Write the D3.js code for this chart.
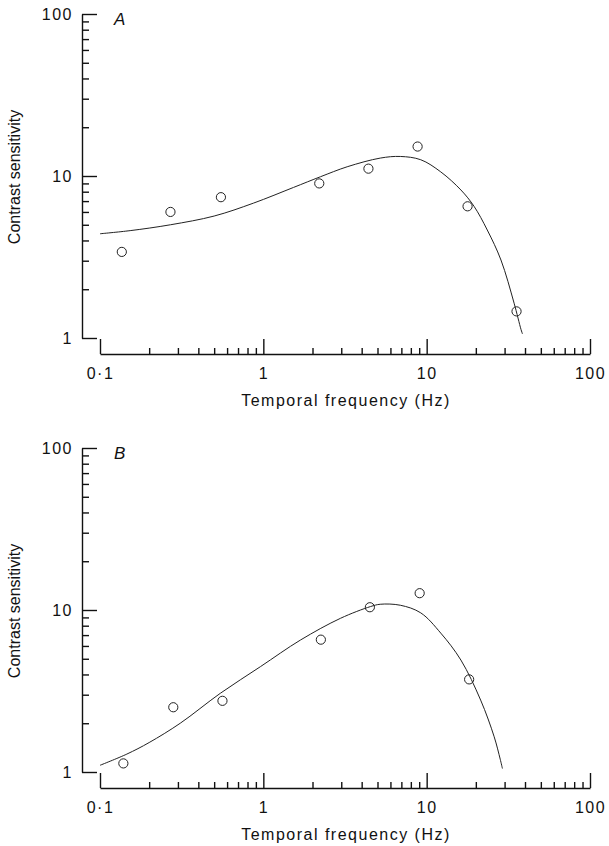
<!DOCTYPE html>
<html>
<head>
<meta charset="utf-8">
<script src="https://cdn.jsdelivr.net/npm/d3@7"></script>
<style>
  body { margin: 0; background: #fff; }
  text { font-family: Arial, "Liberation Sans", sans-serif; fill: #111; }
</style>
</head>
<body>
<script>
var w = 609;
var h = 846;

// panel A: measured points (Hz, contrast sensitivity)
var freqA = [0.136, 0.27, 0.55, 2.2, 4.4, 8.8, 17.8, 35.5];
var sensA = [3.4, 6.0, 7.4, 9.0, 11.1, 15.2, 6.5, 1.46];
// panel A: fitted curve
var curveFreqA = [0.1, 0.153, 0.27, 0.5, 0.87, 1.53, 2.24, 3.26, 5.2, 6.9, 9.2, 12.2, 16.2, 19.5, 23.5, 28.5, 34.3, 37.8, 38.6];
var curveSensA = [4.4, 4.6, 5.0, 5.66, 6.8, 8.5, 9.9, 11.4, 12.9, 13.2, 12.6, 10.6, 8.2, 6.5, 4.64, 3.03, 1.64, 1.13, 1.06];

// panel B
var freqB = [0.139, 0.281, 0.562, 2.25, 4.49, 9.06, 18.2];
var sensB = [1.13, 2.51, 2.75, 6.56, 10.4, 12.7, 3.73];
var curveFreqB = [0.1, 0.146, 0.2, 0.31, 0.545, 0.96, 1.69, 2.97, 4.53, 5.2, 6.9, 9.2, 12.2, 16.2, 21.4, 25.9, 28.2, 29.1];
var curveSensB = [1.1, 1.29, 1.52, 2.0, 3.06, 4.47, 6.53, 8.89, 10.5, 10.85, 10.7, 9.6, 7.2, 4.91, 2.78, 1.65, 1.2, 1.05];

var xTicks = [0.1, 0.2, 0.3, 0.4, 0.5, 0.6, 0.7, 0.8, 0.9, 1, 2, 3, 4, 5, 6, 7, 8, 9, 10,
              20, 30, 40, 50, 60, 70, 80, 90, 100];
var yTicks = [1, 2, 3, 4, 5, 6, 7, 8, 9, 10, 20, 30, 40, 50, 60, 70, 80, 90, 100];
var majors = [0.1, 1, 10, 100];
var xLabels = {0.1: "0\u00b71", 1: "1", 10: "10", 100: "100"};

var svg = d3.select("body").append("svg").attr("width", w).attr("height", h);

function isMajor(v) {
    return majors.some(m => Math.abs(m - v) < 1e-9);
}

function panel(top, letter, fx, fy, cx, cy) {
    var yBottom = top + 324;
    var xScale = d3.scaleLog().domain([0.1, 100]).range([100, 590]);
    var yScale = d3.scaleLog().domain([1, 100]).range([yBottom, top]);
    var xAxisY = yBottom + 16;

    var g = svg.append("g");

    // y axis, ticks point inward
    var yAxis = d3.axisLeft(yScale)
        .tickValues(yTicks)
        .tickSizeInner(-7)
        .tickSizeOuter(0)
        .tickPadding(9)
        .tickFormat(d => isMajor(d) ? String(d) : "");
    var ya = g.append("g").attr("transform", "translate(82,0)").call(yAxis);
    ya.selectAll(".tick line").attr("x2", d => isMajor(d) ? 15 : 7);
    ya.selectAll(".tick text")
        .attr("font-size", "16px")
        .attr("letter-spacing", "1.5px")
        .attr("font-family", "Arial, 'Liberation Sans', sans-serif");

    // x axis, offset below the plot, ticks point up
    var xAxis = d3.axisBottom(xScale)
        .tickValues(xTicks)
        .tickSizeInner(-6)
        .tickSizeOuter(0)
        .tickPadding(14)
        .tickFormat(d => isMajor(d) ? xLabels[d] : "");
    var xa = g.append("g").attr("transform", "translate(0," + xAxisY + ")").call(xAxis);
    xa.selectAll(".tick line").attr("y2", d => isMajor(d) ? -15 : -6);
    xa.selectAll(".tick text")
        .attr("font-size", "16px")
        .attr("letter-spacing", "1.5px")
        .attr("font-family", "Arial, 'Liberation Sans', sans-serif");

    g.selectAll(".domain, .tick line").attr("stroke", "#111").attr("stroke-width", 1.4);

    // fitted curve
    var line = d3.line()
        .x(d => xScale(d[0]))
        .y(d => yScale(d[1]))
        .curve(d3.curveCatmullRom.alpha(0.5));
    g.append("path")
        .datum(cx.map((f, i) => [f, cy[i]]))
        .attr("d", line)
        .attr("fill", "none")
        .attr("stroke", "#222")
        .attr("stroke-width", 1);

    // data points
    g.selectAll("circle")
        .data(fx.map((f, i) => [f, fy[i]]))
        .enter()
        .append("circle")
        .attr("cx", d => xScale(d[0]))
        .attr("cy", d => yScale(d[1]))
        .attr("r", 4.6)
        .attr("fill", "none")
        .attr("stroke", "#222")
        .attr("stroke-width", 1);

    // panel letter
    g.append("text")
        .attr("x", 114)
        .attr("y", top + 11)
        .attr("font-size", "17px")
        .attr("font-style", "italic")
        .text(letter);

    // axis titles
    g.append("text")
        .attr("transform", "translate(20," + (top + 163) + ") rotate(-90)")
        .attr("text-anchor", "middle")
        .attr("font-size", "16px")
        .text("Contrast sensitivity");

    g.append("text")
        .attr("x", 346)
        .attr("y", xAxisY + 52)
        .attr("text-anchor", "middle")
        .attr("font-size", "16px")
        .attr("letter-spacing", "1.5px")
        .text("Temporal frequency (Hz)");
}

panel(14, "A", freqA, sensA, curveFreqA, curveSensA);
panel(448, "B", freqB, sensB, curveFreqB, curveSensB);
</script>
</body>
</html>
